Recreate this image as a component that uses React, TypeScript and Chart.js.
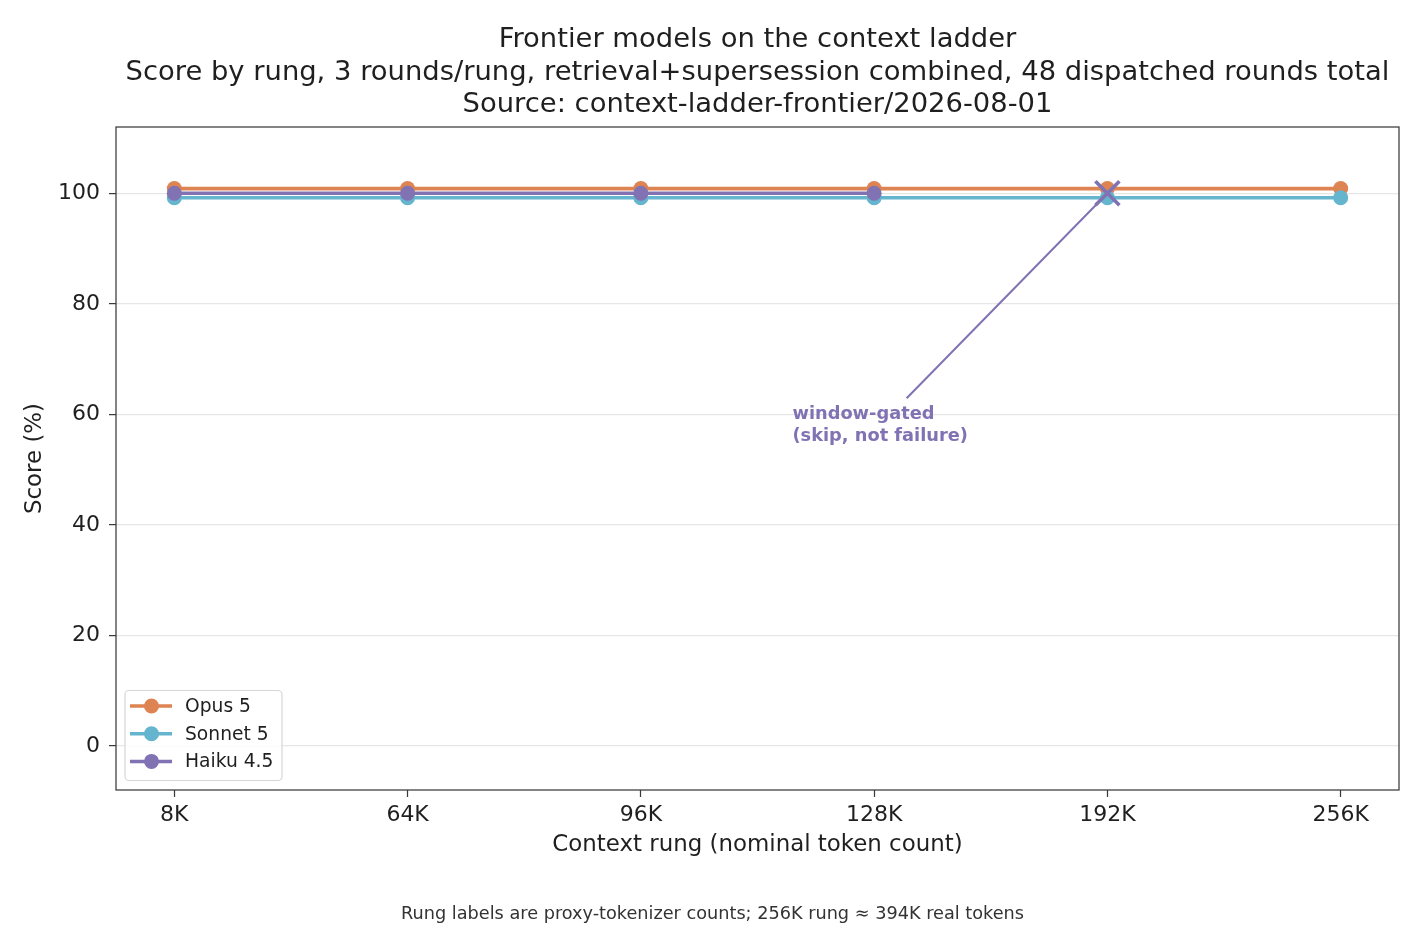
import React, { useEffect, useRef } from 'react';
import { Chart, registerables } from 'chart.js';

Chart.register(...registerables);

// ---------- data ----------
const RUNGS = ['8K', '64K', '96K', '128K', '192K', '256K'];
const SERIES_NAMES = ['Opus 5', 'Sonnet 5', 'Haiku 4.5'];
const OPUS_SCORES: (number | null)[] = [100, 100, 100, 100, 100, 100];
const SONNET_SCORES: (number | null)[] = [100, 100, 100, 100, 100, 100];
const HAIKU_SCORES: (number | null)[] = [100, 100, 100, 100, null, null];
// rung where Haiku was window-gated (skipped)
const HAIKU_GATED: (number | null)[] = [null, null, null, null, 100, null];
// small vertical jitter so identical lines remain visible
const DISPLAY_OFFSETS = [0.85, -0.8, 0];
const Y_TICKS = [0, 20, 40, 60, 80, 100];
const Y_MIN = -8;
const Y_MAX = 112;

const TITLE_LINES = [
  'Frontier models on the context ladder',
  'Score by rung, 3 rounds/rung, retrieval+supersession combined, 48 dispatched rounds total',
  'Source: context-ladder-frontier/2026-08-01',
];
const X_LABEL = 'Context rung (nominal token count)';
const Y_LABEL = 'Score (%)';
const FOOTNOTE = 'Rung labels are proxy-tokenizer counts; 256K rung \u2248 394K real tokens';
const ANNOTATION_LINES = ['window-gated', '(skip, not failure)'];
const ANNOTATION_TEXT_AT = { x: 2.65, y: 60 };
const ANNOTATION_TARGET = { x: 4, y: 100 };

// ---------- style ----------
const COLORS = ['#DD8452', '#64B5CD', '#8172B3'];
const FONT = "'DejaVu Sans', 'Liberation Sans', sans-serif";
const TEXT = '#1f1f1f';
const FRAME = '#3a3a3a';

const toPoints = (arr: (number | null)[], off: number) =>
  arr.map((v, i) => ({ x: i, y: v === null ? null : v + off }));

const overlayPlugin = {
  id: 'overlay',
  afterDraw(chart: any) {
    const ctx: CanvasRenderingContext2D = chart.ctx;
    const a = chart.chartArea;
    const xs = chart.scales.x;
    const ys = chart.scales.y;
    const cx = (a.left + a.right) / 2;
    ctx.save();

    // frame
    ctx.strokeStyle = FRAME;
    ctx.lineWidth = 1.25;
    ctx.strokeRect(a.left, a.top, a.right - a.left, a.bottom - a.top);

    // titles
    ctx.fillStyle = TEXT;
    ctx.textAlign = 'center';
    ctx.textBaseline = 'middle';
    ctx.font = `27.4px ${FONT}`;
    TITLE_LINES.forEach((t, i) => ctx.fillText(t, cx, 40 + i * 32.5));

    // axis labels
    ctx.font = `22.9px ${FONT}`;
    ctx.fillText(X_LABEL, cx, 845);
    ctx.save();
    ctx.translate(35, (a.top + a.bottom) / 2);
    ctx.rotate(-Math.PI / 2);
    ctx.fillText(Y_LABEL, 0, 0);
    ctx.restore();

    // footnote
    ctx.font = `17.7px ${FONT}`;
    ctx.fillStyle = '#333';
    ctx.fillText(FOOTNOTE, chart.width / 2, 914);

    // annotation
    ctx.font = `bold 17.8px ${FONT}`;
    const lh = 22;
    const tx = xs.getPixelForValue(ANNOTATION_TEXT_AT.x);
    const ty = ys.getPixelForValue(ANNOTATION_TEXT_AT.y);
    const w = Math.max(...ANNOTATION_LINES.map((l) => ctx.measureText(l).width));
    const boxTop = ty - lh / 2;
    const boxBottom = ty + lh / 2 + lh * (ANNOTATION_LINES.length - 1);
    const bcx = tx + w / 2;
    const bcy = (boxTop + boxBottom) / 2;
    const px = xs.getPixelForValue(ANNOTATION_TARGET.x);
    const py = ys.getPixelForValue(ANNOTATION_TARGET.y);
    const dx = px - bcx;
    const dy = py - bcy;
    const t = (boxTop - 5 - bcy) / dy;
    ctx.strokeStyle = COLORS[2];
    ctx.lineWidth = 2;
    ctx.beginPath();
    ctx.moveTo(bcx + dx * t, bcy + dy * t);
    ctx.lineTo(px, py);
    ctx.stroke();
    ctx.fillStyle = COLORS[2];
    ctx.textAlign = 'left';
    ANNOTATION_LINES.forEach((l, i) => ctx.fillText(l, tx, ty + i * lh));

    // legend
    const lx = 125;
    const ly = 690.5;
    const lw = 157;
    const lhgt = 90;
    ctx.fillStyle = 'rgba(255,255,255,0.85)';
    ctx.strokeStyle = '#d6d6d6';
    ctx.lineWidth = 1.2;
    ctx.beginPath();
    (ctx as any).roundRect(lx, ly, lw, lhgt, 4);
    ctx.fill();
    ctx.stroke();
    ctx.font = `18.7px ${FONT}`;
    ctx.textBaseline = 'middle';
    SERIES_NAMES.forEach((name, i) => {
      const ry = 706 + i * 27.7;
      ctx.strokeStyle = COLORS[i];
      ctx.lineWidth = 3.5;
      ctx.beginPath();
      ctx.moveTo(130, ry);
      ctx.lineTo(172, ry);
      ctx.stroke();
      ctx.fillStyle = COLORS[i];
      ctx.beginPath();
      ctx.arc(151.5, ry, 7.5, 0, Math.PI * 2);
      ctx.fill();
      ctx.fillStyle = TEXT;
      ctx.fillText(name, 185, ry + 1);
    });

    ctx.restore();
  },
};

export default function App() {
  const ref = useRef<HTMLCanvasElement | null>(null);

  useEffect(() => {
    document.body.style.margin = '0';
    const canvas = ref.current;
    if (!canvas) return;
    const series = [OPUS_SCORES, SONNET_SCORES, HAIKU_SCORES];
    const datasets: any[] = series.map((s, i) => ({
      label: SERIES_NAMES[i],
      data: toPoints(s, DISPLAY_OFFSETS[i]),
      borderColor: COLORS[i],
      backgroundColor: COLORS[i],
      borderWidth: 3.6,
      pointRadius: 7.5,
      pointHoverRadius: 7.5,
      pointBorderWidth: 0,
      pointBackgroundColor: COLORS[i],
      spanGaps: false,
      order: 10 - i,
      clip: false,
    }));
    datasets.push({
      label: 'Haiku gated',
      data: toPoints(HAIKU_GATED, 0),
      showLine: false,
      pointStyle: 'crossRot',
      pointRadius: 17,
      pointHoverRadius: 17,
      pointBorderWidth: 3.6,
      borderColor: COLORS[2],
      backgroundColor: COLORS[2],
      order: 1,
      clip: false,
    });

    const chart = new Chart(canvas, {
      type: 'line',
      data: { datasets },
      plugins: [overlayPlugin],
      options: {
        animation: false,
        responsive: false,
        devicePixelRatio: 1,
        parsing: false as any,
        layout: { padding: { top: 127, right: 26, left: 0, bottom: 0 } },
        plugins: {
          legend: { display: false },
          tooltip: { enabled: false },
          title: { display: false },
        },
        scales: {
          x: {
            type: 'linear',
            min: -0.25,
            max: 5.25,
            afterBuildTicks: (s: any) => {
              s.ticks = RUNGS.map((_, i) => ({ value: i }));
            },
            afterFit: (s: any) => {
              s.height = 140;
            },
            ticks: {
              callback: (v: any) => RUNGS[Number(v)] ?? '',
              font: { family: FONT, size: 22 },
              color: TEXT,
              padding: 5,
              maxRotation: 0,
              autoSkip: false,
            },
            grid: { drawOnChartArea: false, tickColor: FRAME, tickLength: 7, tickWidth: 1.25 },
            border: { display: false },
          },
          y: {
            type: 'linear',
            min: Y_MIN,
            max: Y_MAX,
            afterBuildTicks: (s: any) => {
              s.ticks = Y_TICKS.map((v) => ({ value: v }));
            },
            afterFit: (s: any) => {
              s.width = 116;
            },
            ticks: {
              font: { family: FONT, size: 22 },
              color: TEXT,
              padding: 9,
            },
            grid: { color: '#e6e6e6', lineWidth: 1.2, tickColor: FRAME, tickLength: 7, tickWidth: 1.25 },
            border: { display: false },
          },
        },
      },
    });
    return () => chart.destroy();
  }, []);

  return (
    <canvas ref={ref} width={1425} height={930} style={{ display: 'block', width: 1425, height: 930 }} />
  );
}
